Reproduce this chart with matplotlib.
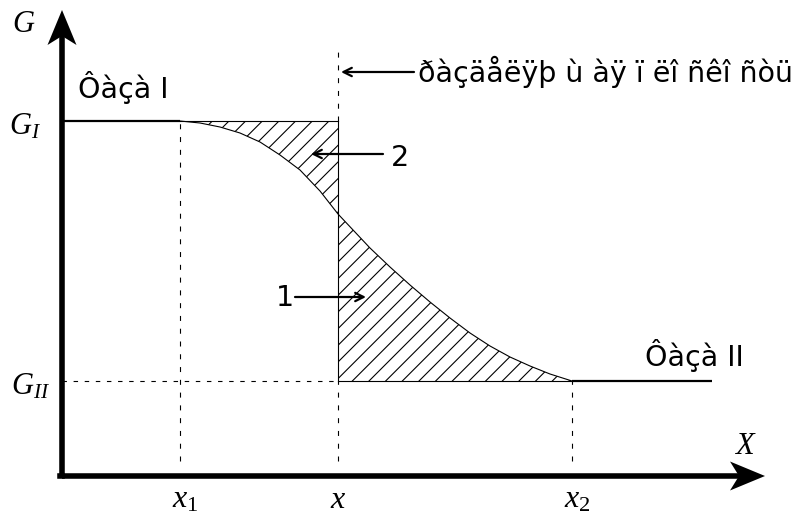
import numpy as np
import matplotlib
matplotlib.use('Agg')
import matplotlib.pyplot as plt
from matplotlib.patches import Polygon

plt.rcParams['mathtext.fontset'] = 'custom'
plt.rcParams['mathtext.it'] = 'Liberation Serif:italic'
plt.rcParams['mathtext.rm'] = 'Liberation Serif'
plt.rcParams['hatch.linewidth'] = 0.8

# concentration profile across the interface
x_curve = [1.18, 1.38, 1.58, 1.78, 1.98, 2.18, 2.38, 2.58, 2.76,
           2.92, 3.08, 3.28, 3.48, 3.68, 3.88, 4.08, 4.28, 4.48, 4.68, 4.88, 5.10]
g_curve = [3.55, 3.53, 3.49, 3.43, 3.34, 3.21, 3.06, 2.85, 2.62,
           2.45, 2.28, 2.09, 1.91, 1.74, 1.58, 1.43, 1.30, 1.19, 1.10, 1.02, 0.95]

G_I = 3.55
G_II = 0.95
x1 = 1.18
x_mid = 2.76
x2 = 5.10
x_end = 6.50

x_labels = ['$x_1$', '$x$', '$x_2$']
phase_labels = ['Ôàçà I', 'Ôàçà II']
plane_label = 'ðàçäåëÿþ ù àÿ ï ëî ñêî ñòü'


def arrow_head(ax, tip, direction, length=0.35, half=0.145, notch=0.26):
    """filled swept-back arrowhead at the end of an axis"""
    tx, ty = tip
    dx, dy = direction
    px, py = -dy, dx
    pts = [(tx, ty),
           (tx - dx * length + px * half, ty - dy * length + py * half),
           (tx - dx * notch, ty - dy * notch),
           (tx - dx * length - px * half, ty - dy * length - py * half)]
    ax.add_patch(Polygon(pts, closed=True, color='black', lw=0, zorder=5))


def plot():
    fig = plt.figure(figsize=(7.99, 5.15), dpi=100)
    ax = fig.add_axes([0, 0, 1, 1])
    ax.set_xlim(-0.62, 7.37)
    ax.set_ylim(-0.39, 4.76)
    ax.axis('off')

    xs = np.array(x_curve)
    gs = np.array(g_curve)
    left = xs <= x_mid
    right = xs >= x_mid

    # hatched areas
    ax.fill_between(xs[left], gs[left], G_I, facecolor='none', edgecolor='black',
                    hatch='//', linewidth=0)
    ax.fill_between(xs[right], G_II, gs[right], facecolor='none', edgecolor='black',
                    hatch='//', linewidth=0)

    # curve and outlines
    ax.plot(xs, gs, color='black', lw=0.8)
    ax.plot([x1, x_mid], [G_I, G_I], color='black', lw=0.8)
    ax.plot([x_mid, x2], [G_II, G_II], color='black', lw=0.8)
    ax.plot([x_mid, x_mid], [G_II, G_I], color='black', lw=0.8)

    # constant levels
    ax.plot([0, x1], [G_I, G_I], color='black', lw=1.6, solid_capstyle='butt')
    ax.plot([x2, x_end], [G_II, G_II], color='black', lw=1.6, solid_capstyle='butt')

    # guide lines
    dash = (0, (4.5, 7))
    ax.plot([x1, x1], [0.15, G_I], color='black', lw=0.8, linestyle=dash)
    ax.plot([x2, x2], [0.15, G_II], color='black', lw=0.8, linestyle=dash)
    ax.plot([x_mid, x_mid], [0.15, G_II], color='black', lw=0.8, linestyle=dash)
    ax.plot([x_mid, x_mid], [G_I, 4.26], color='black', lw=0.8, linestyle=dash)
    ax.plot([0, x_mid], [G_II, G_II], color='black', lw=0.8, linestyle=(0, (4, 6)))

    # axes with arrows
    ax.plot([0, 0], [0, 4.45], color='black', lw=4, solid_capstyle='butt')
    ax.plot([0, 6.8], [0, 0], color='black', lw=4, solid_capstyle='butt')
    ax.plot([-0.02, 0], [0, 0], color='black', lw=4)
    arrow_head(ax, (0, 4.66), (0, 1))
    arrow_head(ax, (7.03, 0), (1, 0))

    serif = dict(fontsize=22, color='black')
    ax.text(-0.38, 4.52, '$G$', ha='center', va='center', **serif)
    ax.text(-0.53, G_I - 0.05, '$G_I$', ha='left', va='center', **serif)
    ax.text(-0.51, G_II - 0.05, '$G_{II}$', ha='left', va='center', **serif)
    ax.text(6.83, 0.31, '$X$', ha='center', va='center', **serif)
    offsets = [0.05, 0.0, 0.05]
    for xv, lab, off in zip([x1, x_mid, x2], x_labels, offsets):
        ax.text(xv + off, -0.23, lab, ha='center', va='center', fontsize=23,
                color='black')

    sans = dict(fontsize=20.5, color='black', family='DejaVu Sans')
    ax.text(0.16, 3.88, phase_labels[0], ha='left', va='center', **sans)
    ax.text(5.83, 1.21, phase_labels[1], ha='left', va='center', **sans)
    ax.text(3.56, 4.04, plane_label, ha='left', va='center', **sans)
    ax.text(3.38, 3.18, '2', ha='center', va='center', **sans)
    ax.text(2.23, 1.78, '1', ha='center', va='center', **sans)

    arrow = dict(arrowstyle='->, head_length=0.6, head_width=0.3', color='black', lw=1.6,
                 shrinkA=0, shrinkB=0)
    ax.annotate('', xy=(2.79, 4.04), xytext=(3.52, 4.04), arrowprops=arrow)
    ax.annotate('', xy=(2.49, 3.22), xytext=(3.21, 3.22), arrowprops=arrow)
    ax.annotate('', xy=(3.04, 1.79), xytext=(2.33, 1.79), arrowprops=arrow)

    fig.savefig('out.png', dpi=100)


plot()
